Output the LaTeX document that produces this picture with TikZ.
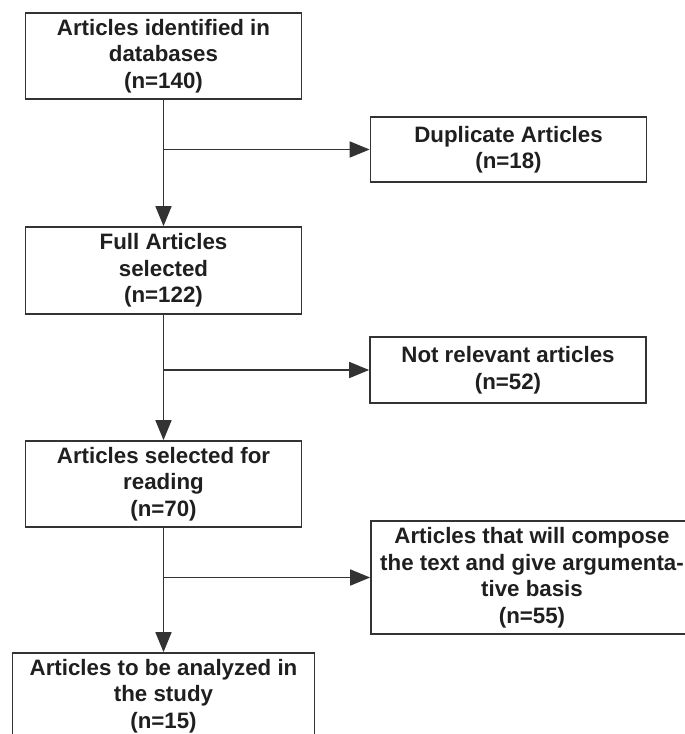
\documentclass[tikz,border=0pt]{standalone}
\usepackage{fontspec}
\setmainfont{Liberation Sans}
\usetikzlibrary{arrows.meta,positioning}

\begin{document}
\begin{tikzpicture}[x=1pt,y=-1pt,
      every node/.append style={font=\bfseries\fontsize{22.3}{26.5}\selectfont,text=black!88},
      box/.style={draw=black!80,line width=1.7pt,rectangle,align=center,minimum width=276pt,minimum height=86pt,inner sep=0pt},
      side/.style={box,minimum height=66pt},
      flow/.style={-{Triangle[length=20pt,width=16pt]},line width=1.7pt,draw=black!80}]
    \clip (0,0) rectangle (685,734);
    \node (databases) [box] at (163.5,56) {Articles identified in\\databases\\(n=140)};
    \node (duplicates) [side,minimum height=65pt] at (508.5,149.5) {Duplicate Articles\\(n=18)};
    \node (full) [box,minimum height=87pt] at (163.5,270.5) {Full Articles\\selected\\(n=122)};
    \node (irrelevant) [side] at (508,370) {Not relevant articles\\(n=52)};
    \node (reading) [box] at (163.5,484) {Articles selected for\\reading\\(n=70)};
    \node (compose) [side,minimum width=322pt,minimum height=113pt] at (532,577.5) {Articles that will compose\\the text and give argumenta-\\tive basis\\(n=55)};
    \node (study) [box,minimum width=302pt] at (163.5,696) {Articles to be analyzed in\\the study\\(n=15)};
    \coordinate (split1) at (databases.south |- duplicates.west);
    \coordinate (split2) at (full.south |- irrelevant.west);
    \coordinate (split3) at (reading.south |- compose.west);
    \draw [flow] (databases) -- (full);
    \draw [flow] (full) -- (reading);
    \draw [flow] (reading) -- (study);
    \draw [flow] (split1) -- (duplicates);
    \draw [flow] (split2) -- (irrelevant);
    \draw [flow] (split3) -- (compose);
\end{tikzpicture}
\end{document}
